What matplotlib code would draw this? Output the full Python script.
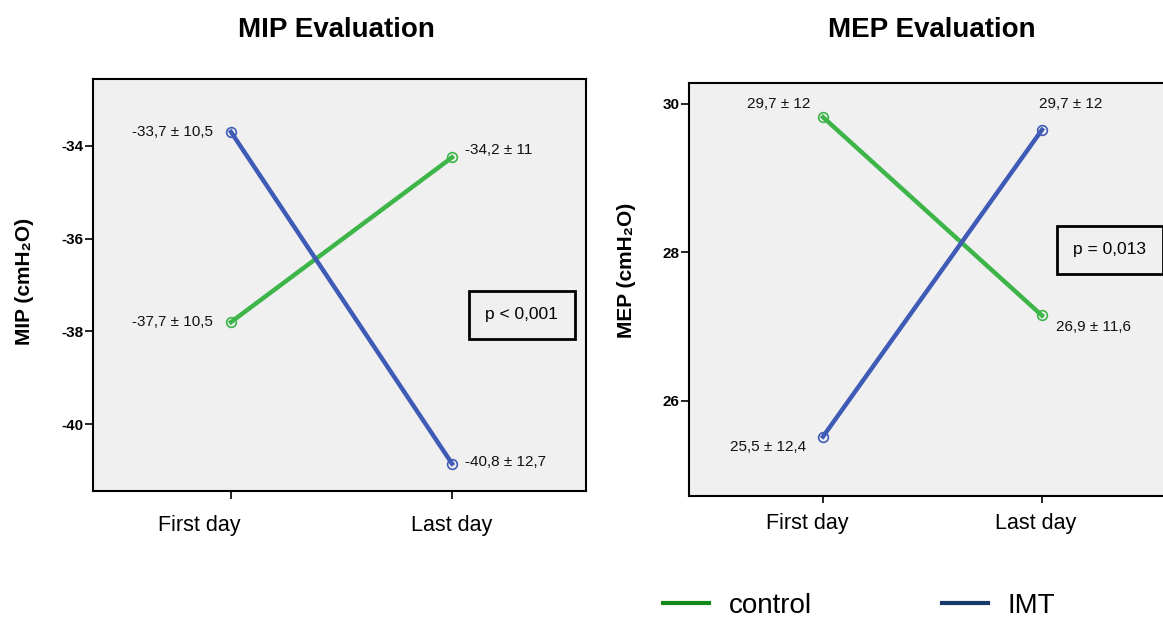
import matplotlib
matplotlib.use("Agg")
import matplotlib.pyplot as plt
import matplotlib.transforms as mtransforms
from matplotlib.lines import Line2D

plt.rcParams['font.family'] = ['Liberation Sans', 'DejaVu Sans']

days = ["First day", "Last day"]
mip_control = [-37.8, -34.25]
mip_imt = [-33.7, -40.85]
mip_control_labels = ["-37,7 \u00b1 10,5", "-34,2 \u00b1 11"]
mip_imt_labels = ["-33,7 \u00b1 10,5", "-40,8 \u00b1 12,7"]
mip_yticks = [-34, -36, -38, -40]
mip_p = "p < 0,001"

mep_control = [29.82, 27.15]
mep_imt = [25.52, 29.65]
mep_control_labels = ["29,7 \u00b1 12", "26,9 \u00b1 11,6"]
mep_imt_labels = ["25,5 \u00b1 12,4", "29,7 \u00b1 12"]
mep_yticks = [26, 28, 30]
mep_p = "p = 0,013"

series_names = ["control", "IMT"]
line_colors = ["#3db548", "#3f5bb6"]
legend_colors = ["#118a1a", "#173a6b"]

W, H = 1163, 619
fig = plt.figure(figsize=(W / 100, H / 100), dpi=100)


def px_axes(x0, y0, x1, y1):
    return fig.add_axes([x0 / W, 1 - y1 / H, (x1 - x0) / W, (y1 - y0) / H])


def style(ax, xlen, xpad, label_shifts):
    ax.set_facecolor("#f0f0f0")
    for s in ax.spines.values():
        s.set_linewidth(1.5)
        s.set_color("black")
    ax.tick_params(axis='y', direction='out', length=6, width=1.2, labelsize=11, pad=1)
    ax.tick_params(axis='x', direction='out', length=xlen, width=1.2, labelsize=15.5, pad=xpad)
    for lab in ax.get_yticklabels():
        lab.set_fontweight('bold')
    for lab, dx in zip(ax.get_xticklabels(), label_shifts):
        off = mtransforms.ScaledTranslation(dx / 100, 0, fig.dpi_scale_trans)
        lab.set_transform(lab.get_transform() + off)


xs = [0, 1]
ann = dict(textcoords='offset pixels', fontsize=11, color='#111111')
pbox = dict(boxstyle='square,pad=0.95', fc='#f0f0f0', ec='black', lw=2)

# ---------- MIP ----------
ax1 = px_axes(93, 79, 586, 491)
ax1.plot(xs, mip_control, color=line_colors[0], lw=3.2, marker='o', ms=7,
         mfc='none', mec=line_colors[0], mew=1.2, zorder=3)
ax1.plot(xs, mip_imt, color=line_colors[1], lw=3.2, marker='o', ms=7,
         mfc='none', mec=line_colors[1], mew=1.2, zorder=3)
ax1.set_xlim(-0.624, 1.606)
ax1.set_ylim(-41.44, -32.56)
ax1.set_xticks(xs)
ax1.set_xticklabels(days)
ax1.set_yticks(mip_yticks)
ax1.set_yticklabels([str(v) for v in mip_yticks])
style(ax1, 6, 11, [-32, 0])

ax1.annotate(mip_imt_labels[0], (0, mip_imt[0]), xytext=(-18, 0), ha='right', va='center', **ann)
ax1.annotate(mip_control_labels[0], (0, mip_control[0]), xytext=(-18, 0), ha='right', va='center', **ann)
ax1.annotate(mip_control_labels[1], (1, mip_control[1]), xytext=(13, 7), ha='left', va='center', **ann)
ax1.annotate(mip_imt_labels[1], (1, mip_imt[1]), xytext=(13, 2), ha='left', va='center', **ann)
ax1.text(0.870, 0.428, mip_p, transform=ax1.transAxes, fontsize=12.5, ha='center', va='center',
         bbox=pbox)

fig.text(336 / W, 1 - 30 / H, "MIP Evaluation", fontsize=20, fontweight='bold',
         ha='center', va='center')
fig.text(24 / W, 1 - 281 / H, "MIP (cmH\u2082O)", fontsize=15, fontweight='bold',
         rotation=90, ha='center', va='center')

# ---------- MEP ----------
ax2 = px_axes(689, 83, 1176, 496)
ax2.plot(xs, mep_control, color=line_colors[0], lw=3.2, marker='o', ms=7,
         mfc='none', mec=line_colors[0], mew=1.2, zorder=3)
ax2.plot(xs, mep_imt, color=line_colors[1], lw=3.2, marker='o', ms=7,
         mfc='none', mec=line_colors[1], mew=1.2, zorder=3)
ax2.set_xlim(-0.612, 1.612)
ax2.set_ylim(24.72, 30.28)
ax2.set_xticks(xs)
ax2.set_xticklabels(days)
ax2.set_yticks(mep_yticks)
ax2.set_yticklabels([str(v) for v in mep_yticks])
style(ax2, 5, 7, [-16, -6])

ax2.annotate(mep_control_labels[0], (0, mep_control[0]), xytext=(-13, 13), ha='right', va='center', **ann)
ax2.annotate(mep_imt_labels[0], (0, mep_imt[0]), xytext=(-17, -10), ha='right', va='center', **ann)
ax2.annotate(mep_imt_labels[1], (1, mep_imt[1]), xytext=(29, 26), ha='center', va='center', **ann)
ax2.annotate(mep_control_labels[1], (1, mep_control[1]), xytext=(14, -12), ha='left', va='center', **ann)
ax2.text(0.864, 0.596, mep_p, transform=ax2.transAxes, fontsize=12.5, ha='center', va='center',
         bbox=pbox)

fig.text(932 / W, 1 - 30 / H, "MEP Evaluation", fontsize=20, fontweight='bold',
         ha='center', va='center')
fig.text(627 / W, 1 - 270 / H, "MEP (cmH\u2082O)", fontsize=15, fontweight='bold',
         rotation=90, ha='center', va='center')

# ---------- legend ----------
handles = [Line2D([], [], color=c, lw=3.0) for c in legend_colors]
fig.legend(handles, series_names, loc='center left', bbox_to_anchor=(663 / W, 1 - 606 / H),
           ncol=2, frameon=False, fontsize=20, handlelength=1.65, handletextpad=0.72,
           columnspacing=4.68, borderpad=0, borderaxespad=0)

fig.savefig("out.png", dpi=100)
